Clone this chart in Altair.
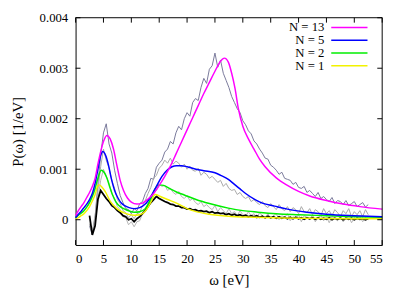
import altair as alt
import pandas as pd

FONT = "Liberation Serif"

# ---------------- smooth model curves ----------------
w13 = [0, 0.5, 1, 1.5, 2, 2.5, 3, 3.5, 4, 4.5, 5, 5.6, 6.2, 6.8, 7.4, 8, 8.6, 9.3, 10, 11,
       12, 13, 14, 15, 16, 17, 18, 19, 20, 21, 22, 23, 24, 25,
       26, 26.7, 27.4, 28, 28.6, 29.2, 30, 31, 32, 33, 34, 36, 38, 40, 42, 45, 48, 51, 55]
p13 = [0.00008, 0.00018, 0.00026, 0.00034, 0.00044, 0.00054, 0.00066, 0.00082, 0.0011, 0.00135,
       0.00155, 0.00167, 0.0016, 0.0014, 0.00108, 0.00078, 0.00058, 0.00043, 0.00035, 0.00031,
       0.00033, 0.00041, 0.00052, 0.00068, 0.00086, 0.00106, 0.0013, 0.00154, 0.00178, 0.00202,
       0.00226, 0.0025, 0.00272, 0.00294,
       0.00314, 0.0032, 0.00312, 0.0029, 0.0026, 0.0022, 0.00185, 0.0016, 0.0014, 0.0012, 0.00105,
       0.00083, 0.00068, 0.00056, 0.00047, 0.00038, 0.00031, 0.00026, 0.00021]

w5 = [0, 0.5, 1, 1.5, 2, 2.5, 3, 3.5, 4, 4.5, 4.9, 5.4, 5.9, 6.4, 7, 7.6, 8.2, 8.8, 9.6, 10.5,
      11.5, 12.5, 13.5, 14.5, 15.5, 16.5, 17.3, 18.1, 19, 20, 21.6, 23, 25, 26, 27.4, 28.5, 29.5,
      30.5, 32.2, 33.5, 35.7, 38, 41.5, 45, 50, 55]
p5 = [0.00004, 0.00011, 0.00017, 0.00024, 0.00031, 0.0004, 0.00052, 0.00072, 0.001, 0.00127,
      0.00135, 0.00127, 0.00108, 0.00082, 0.00058, 0.00043, 0.00033, 0.00028, 0.00024, 0.00022,
      0.00024, 0.00031, 0.00046, 0.00066, 0.00086, 0.00099, 0.00105, 0.00107, 0.00107, 0.00105,
      0.001, 0.00097, 0.00093, 0.00088, 0.0008, 0.0007, 0.00061, 0.00052, 0.0004, 0.00033,
      0.00027, 0.00021, 0.00015, 0.00011, 0.00008, 0.00006]

w2 = [0, 0.5, 1, 1.5, 2, 2.5, 3, 3.5, 4, 4.6, 5.1, 5.6, 6.1, 6.6, 7.2, 8, 9, 10.5, 11.5,
      12.5, 13.5, 14.2, 15, 15.8, 17, 18.1, 19.5, 21.6, 24, 27.4, 30, 32.7, 36, 40, 45, 50, 55]
p2 = [0.00004, 0.00009, 0.00013, 0.00018, 0.00025, 0.00034, 0.00046, 0.00062, 0.00082,
      0.00098, 0.00094, 0.00083, 0.00066, 0.0005, 0.00036, 0.00026, 0.0002, 0.00015, 0.00016,
      0.00022, 0.00042, 0.0006, 0.00069, 0.00068, 0.00061, 0.00055, 0.00049, 0.0004, 0.00032,
      0.00023, 0.00018, 0.00015, 0.00012, 0.0001, 0.00008, 0.00006, 0.00005]

w1 = [0, 0.5, 1, 1.5, 2, 2.5, 3, 3.5, 3.9, 4.2, 4.7, 5.3, 6.2, 7.4, 8.8, 10.5, 11.5, 12.5,
      13.5, 14.3, 15.2, 16.5, 18.1, 20, 21.6, 24, 27.4, 32, 40, 50, 55]
p1 = [0.00002, 0.00004, 0.00008, 0.00012, 0.00018, 0.00026, 0.00037, 0.0005,
      0.00065, 0.00069, 0.00065, 0.00056, 0.00037, 0.00022, 0.00013, 0.00009, 0.0001, 0.00017,
      0.00035, 0.0005, 0.00046, 0.0004, 0.00033, 0.00022, 0.00016, 0.00011, 0.00007, 0.00005,
      0.00003, 0.00002, 0.00002]

# ---------------- noisy reference curves (omega = 2.5, 3.0, ... 52.5) ----------------
g13 = [-0.00012, -0.00030, 0.00005, 0.00070, 0.00128, 0.00172, 0.00190, 0.00150, 0.00132, 0.00098,
       0.00072, 0.00048, 0.00034, 0.00022, 0.00020, 0.00012, 0.00022, 0.00018, 0.00032, 0.00036,
       0.00052,
       0.00062, 0.00082, 0.00080, 0.00104, 0.00112, 0.00118, 0.00134, 0.00140, 0.00155, 0.00150,
       0.00172, 0.00185, 0.00178, 0.00200, 0.00212, 0.00205, 0.00232, 0.00240, 0.00236, 0.00262,
       0.00280, 0.00270, 0.00298, 0.00305, 0.00330,
       0.00302, 0.00316, 0.00290, 0.00276, 0.00262, 0.00244, 0.00232, 0.00220, 0.00212, 0.00196,
       0.00188, 0.00176, 0.00170, 0.00156, 0.00150, 0.00140, 0.00132, 0.00122, 0.00120, 0.00108,
       0.00104, 0.00098, 0.00090, 0.00094, 0.00082, 0.00080, 0.00078, 0.00070, 0.00074, 0.00064,
       0.00062, 0.00066, 0.00054, 0.00058, 0.00052, 0.00046, 0.00054, 0.00042, 0.00046, 0.00040,
       0.00036, 0.00044, 0.00032, 0.00038, 0.00036, 0.00030, 0.00038, 0.00028, 0.00032, 0.00036,
       0.00026, 0.00030, 0.00034, 0.00025, 0.00030]
g5 = [-0.00008, -0.00022, 0.00008, 0.00058, 0.00105, 0.00140, 0.00118, 0.00102, 0.00078, 0.00062,
      0.00040, 0.00032, 0.00018, 0.00014, 0.00004, 0.00010, 0.00002, 0.00012, 0.00014, 0.00028,
      0.00038, 0.00052, 0.00064, 0.00082, 0.00088, 0.00102, 0.00108, 0.00118, 0.00112, 0.00122,
      0.00110, 0.00116, 0.00112, 0.00104, 0.00110, 0.00100, 0.00106, 0.00098, 0.00096, 0.00102,
      0.00088, 0.00094, 0.00090, 0.00082, 0.00086, 0.00080, 0.00074, 0.00078, 0.00066, 0.00072,
      0.00062, 0.00058, 0.00060, 0.00050, 0.00054, 0.00046, 0.00042, 0.00046, 0.00036, 0.00040,
      0.00034, 0.00030, 0.00036, 0.00028, 0.00024, 0.00032, 0.00026, 0.00020, 0.00030, 0.00022,
      0.00018, 0.00026, 0.00016, 0.00024, 0.00020, 0.00012, 0.00026, 0.00016, 0.00014, 0.00022,
      0.00010, 0.00020, 0.00016, 0.00008, 0.00022, 0.00012, 0.00018, 0.00008, 0.00020, 0.00014,
      0.00006, 0.00018, 0.00012, 0.00022, 0.00006, 0.00016, 0.00010, 0.00018, 0.00006, 0.00020,
      0.00010]
g2 = [-0.00010, -0.00026, 0.00000, 0.00040, 0.00078, 0.00100, 0.00086, 0.00072, 0.00052, 0.00042,
      0.00026, 0.00020, 0.00006, 0.00004, -0.00010, -0.00004, -0.00014, -0.00004, -0.00002, 0.00012,
      0.00018, 0.00032, 0.00038, 0.00052, 0.00058, 0.00070, 0.00066, 0.00068, 0.00058, 0.00062,
      0.00054, 0.00050, 0.00056, 0.00046, 0.00042, 0.00048, 0.00038, 0.00042, 0.00034, 0.00030,
      0.00036, 0.00026, 0.00030, 0.00024, 0.00020, 0.00028, 0.00016, 0.00024, 0.00018, 0.00012,
      0.00022, 0.00012, 0.00016, 0.00008, 0.00018, 0.00010, 0.00006, 0.00016, 0.00008, 0.00012,
      0.00002, 0.00014, 0.00008, 0.00004, 0.00012, 0.00002, 0.00008, 0.00012, 0.00000, 0.00008,
      0.00004, 0.00012, -0.00002, 0.00006, 0.00002, 0.00010, -0.00004, 0.00008, 0.00004, 0.00000,
      0.00010, -0.00004, 0.00004, 0.00008, -0.00002, 0.00006, -0.00006, 0.00006, 0.00002, -0.00002,
      0.00008, -0.00004, 0.00002, 0.00006, -0.00006, 0.00004, 0.00000, 0.00006, -0.00004, 0.00004,
      0.00000]
g1 = [0.00008, -0.00030, -0.00012, 0.00040, 0.00058, 0.00050, 0.00042, 0.00036, 0.00028, 0.00024,
      0.00018, 0.00014, 0.00008, 0.00006, 0.00000, 0.00002, -0.00004, 0.00002, 0.00006, 0.00012,
      0.00018, 0.00026, 0.00034, 0.00040, 0.00046, 0.00042, 0.00039, 0.00036, 0.00034, 0.00031,
      0.00030, 0.00027, 0.00027, 0.00024, 0.00024, 0.00021, 0.00022, 0.00019, 0.00020, 0.00017,
      0.00018, 0.00016, 0.00017, 0.00014, 0.00016, 0.00013, 0.00014, 0.00012, 0.00013, 0.00010,
      0.00012, 0.00009, 0.00011, 0.00008, 0.00010, 0.00007, 0.00009, 0.00006, 0.00008, 0.00006,
      0.00008, 0.00005, 0.00007, 0.00004, 0.00007, 0.00004, 0.00006, 0.00003, 0.00006, 0.00003,
      0.00005, 0.00002, 0.00005, 0.00002, 0.00005, 0.00002, 0.00004, 0.00001, 0.00004, 0.00002,
      0.00004, 0.00001, 0.00004, 0.00001, 0.00003, 0.00001, 0.00004, 0.00000, 0.00003, 0.00001,
      0.00003, 0.00000, 0.00003, 0.00001, 0.00003, 0.00000, 0.00003, 0.00001, 0.00002, 0.00000,
      0.00002]

x_ticks = [0, 5, 10, 15, 20, 25, 30, 35, 40, 45, 50, 55]
y_ticks = [0, 0.001, 0.002, 0.003, 0.004]

legend_labels = ["N = 13", "N = 5", "N = 2", "N = 1"]
legend_colors = ["#ff00ff", "#0000ff", "#00ee00", "#f2f200"]

W, H = 313, 232
xscale = alt.Scale(domain=[0, 55], nice=False, zero=False)
yscale = alt.Scale(domain=[-0.0005, 0.004], nice=False, zero=False)

x_axis = alt.Axis(values=x_ticks, title="ω [eV]", ticks=False, tickSize=0, domain=True,
                  domainColor="black", domainWidth=1,
                  grid=False, labelPadding=8, labelFontSize=13, labelFont=FONT,
                  titleFont=FONT, titleFontSize=15, titleFontWeight="normal",
                  titlePadding=7, labelColor="black", titleColor="black")
y_axis = alt.Axis(values=y_ticks, title="P(ω) [1/eV]", ticks=False, tickSize=0, domain=True,
                  domainColor="black", domainWidth=1,
                  grid=False, labelPadding=8, labelFontSize=13, labelFont=FONT,
                  labelExpr="datum.value == 0 ? '0' : format(datum.value, '.3f')",
                  titleFont=FONT, titleFontSize=15, titleFontWeight="normal",
                  titlePadding=14, labelColor="black", titleColor="black")


def line(ws, ps, color, width, interp="monotone"):
    df = pd.DataFrame({"w": ws, "p": ps})
    return alt.Chart(df).mark_line(color=color, strokeWidth=width, interpolate=interp).encode(
        x=alt.X("w:Q", scale=xscale, axis=x_axis),
        y=alt.Y("p:Q", scale=yscale, axis=y_axis),
    )


def grid(vals):
    return [round(2.5 + 0.5 * i, 1) for i in range(len(vals))]


layers = [
    line(grid(g13), g13, "#78789a", 1, "linear"),
    line(grid(g5), g5, "#a8a8a8", 1, "linear"),
    line(grid(g2), g2, "#b4b4b4", 1, "linear"),
    line(grid(g1), g1, "#000000", 1.8, "linear"),
    line(w1, p1, legend_colors[3], 1.5),
    line(w2, p2, legend_colors[2], 1.5),
    line(w5, p5, legend_colors[1], 1.5),
    line(w13, p13, legend_colors[0], 1.5),
]

# inward ticks (gnuplot style), mirrored on all sides
xt = pd.DataFrame({"w": x_ticks})
yt = pd.DataFrame({"p": y_ticks})
for y0, y1 in [(0, 5), (H, H - 5)]:
    layers.append(alt.Chart(xt).mark_rule(color="black", strokeWidth=1).encode(
        x=alt.X("w:Q", scale=xscale, axis=x_axis), y=alt.value(y0), y2=alt.value(y1)))
for x0, x1 in [(0, 5), (W, W - 5)]:
    layers.append(alt.Chart(yt).mark_rule(color="black", strokeWidth=1).encode(
        y=alt.Y("p:Q", scale=yscale, axis=y_axis), x=alt.value(x0), x2=alt.value(x1)))

# plot frame (top and right edges; bottom/left are the axis domains)
frame = pd.DataFrame({"w": [0, 55], "p": [0.004, 0.004]})
layers.append(alt.Chart(frame).mark_line(color="black", strokeWidth=1).encode(
    x=alt.X("w:Q", scale=xscale, axis=x_axis), y=alt.Y("p:Q", scale=yscale, axis=y_axis)))
frame_r = pd.DataFrame({"w": [55, 55], "p": [-0.0005, 0.004]})
layers.append(alt.Chart(frame_r).mark_line(color="black", strokeWidth=1).encode(
    x=alt.X("w:Q", scale=xscale, axis=x_axis), y=alt.Y("p:Q", scale=yscale, axis=y_axis)))

# legend (gnuplot style: label then line sample)
one = pd.DataFrame({"a": [0]})
for i, (lab, col) in enumerate(zip(legend_labels, legend_colors)):
    yy = 10 + 13 * i
    layers.append(alt.Chart(one).mark_text(align="right", baseline="middle", font=FONT,
                                           fontSize=13, color="black", text=lab).encode(
        x=alt.value(254), y=alt.value(yy)))
    layers.append(alt.Chart(one).mark_rule(color=col, strokeWidth=1.5).encode(
        x=alt.value(261), x2=alt.value(298), y=alt.value(yy)))

chart = alt.layer(*layers).properties(
    width=W, height=H,
    background="white",
    autosize=alt.AutoSizeParams(type="none"),
    padding={"left": 69, "top": 7, "right": 9, "bottom": 42},
).configure_view(stroke=None)

chart.save("out.html", embed_options={"renderer": "svg", "actions": False})
